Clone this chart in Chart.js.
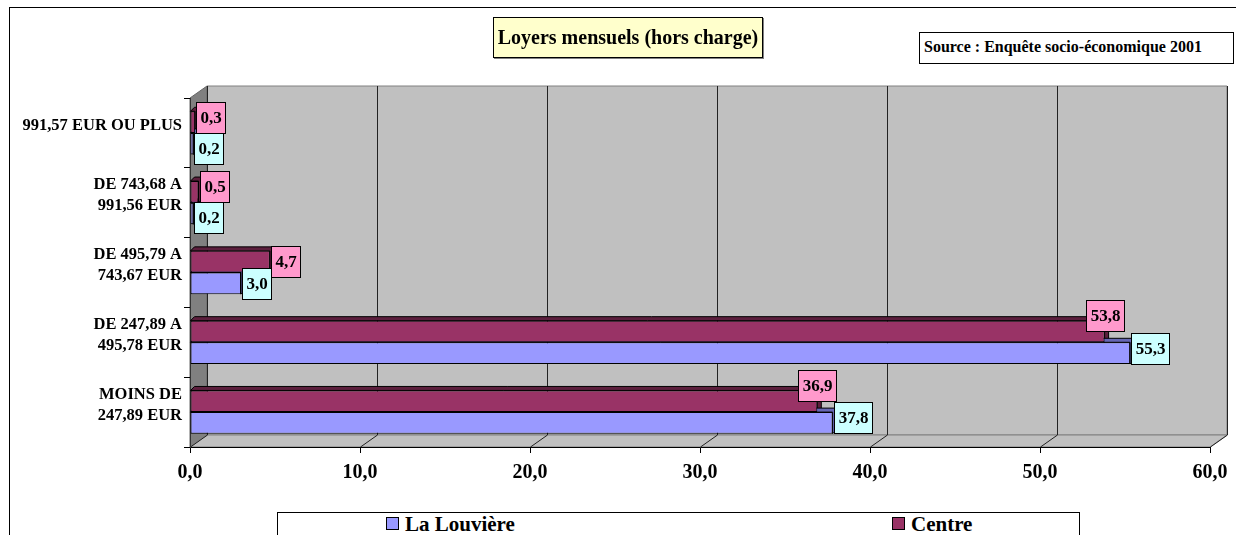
<!DOCTYPE html>
<html lang="fr">
<head>
<meta charset="utf-8">
<title>Loyers mensuels (hors charge)</title>
<script src="https://cdn.jsdelivr.net/npm/chart.js@4.4.1/dist/chart.umd.min.js"></script>
<style>
  html, body { margin: 0; padding: 0; background: #fff; overflow: hidden; }
  body { width: 1236px; height: 535px; position: relative; font-family: "Liberation Serif", "Times New Roman", serif; }
  #cadre { position: absolute; left: 9px; top: 7px; width: 1400px; height: 700px; border: 1px solid #000; }
  #graphique { position: absolute; left: 0; top: 0; }
  .boite { position: absolute; box-sizing: border-box; font-weight: bold; color: #000; white-space: nowrap; }
  #titre { left: 493px; top: 17px; width: 270px; height: 41px; background: #ffffcc; border: 1px solid #000;
           box-shadow: 1px 1px 0 #808080; font-size: 20px; line-height: 39px; text-align: center; }
  #source { left: 919px; top: 32px; width: 315px; height: 32px; background: #fff; border: 1px solid #000;
            font-size: 16px; line-height: 28px; padding-left: 4px; }
  #legende { left: 277px; top: 512px; width: 803px; height: 60px; background: #fff; border: 1px solid #000; }
  .item { position: absolute; top: -1px; font-size: 21px; line-height: 24px; }
  .carre { display: inline-block; width: 11px; height: 11px; border: 1px solid #000; margin-right: 6px; vertical-align: 1px; }
</style>
</head>
<body>
<div id="cadre"></div>
<canvas id="graphique" width="1236" height="535"></canvas>
<div class="boite" id="titre">Loyers mensuels (hors charge)</div>
<div class="boite" id="source">Source : Enquête socio-économique 2001</div>
<div class="boite" id="legende">
  <div class="item" style="left:108px"><span class="carre" style="background:#9999ff"></span>La Louvière</div>
  <div class="item" style="left:614px"><span class="carre" style="background:#993366"></span>Centre</div>
</div>
<script>
// Données
const tranches = [
  '991,57 EUR OU PLUS',
  ['DE 743,68 A', '991,56 EUR'],
  ['DE 495,79 A', '743,67 EUR'],
  ['DE 247,89 A', '495,78 EUR'],
  ['MOINS DE', '247,89 EUR']
];
const laLouviere = [0.2, 0.2, 3.0, 55.3, 37.8];
const centre = [0.3, 0.5, 4.7, 53.8, 36.9];
const axeMin = 0;
const axeMax = 60;
const axePas = 10;

const police = '"Liberation Serif", "Times New Roman", serif';
const virgule = v => Number(v).toFixed(1).replace('.', ',');

// Parois 3D (fond, mur gauche, sol) et quadrillage
const parois = {
  id: 'parois',
  beforeDraw(chart) {
    const { ctx, chartArea: a, scales: { x } } = chart;
    const dx = 17, dy = 12;
    const poly = (pts, fill, stroke) => {
      ctx.beginPath();
      pts.forEach((p, i) => i ? ctx.lineTo(p[0], p[1]) : ctx.moveTo(p[0], p[1]));
      ctx.closePath();
      ctx.fillStyle = fill;
      ctx.fill();
      if (stroke) { ctx.strokeStyle = stroke; ctx.stroke(); }
    };
    ctx.save();
    ctx.lineWidth = 1;
    poly([[a.left + dx, a.top - dy], [a.right + dx, a.top - dy], [a.right + dx, a.bottom - dy], [a.left + dx, a.bottom - dy]], '#c0c0c0', '#808080');
    poly([[a.left, a.top], [a.left + dx, a.top - dy], [a.left + dx, a.bottom - dy], [a.left, a.bottom]], '#808080', '#666');
    poly([[a.left, a.bottom], [a.left + dx, a.bottom - dy], [a.right + dx, a.bottom - dy], [a.right, a.bottom]], '#c0c0c0', '#808080');
    ctx.strokeStyle = '#222';
    x.ticks.forEach(t => {
      const px = Math.round(x.getPixelForValue(t.value)) + 0.5;
      ctx.beginPath();
      ctx.moveTo(px + dx, a.top - dy);
      ctx.lineTo(px + dx, a.bottom - dy);
      ctx.lineTo(px, a.bottom);
      ctx.stroke();
    });
    ctx.restore();
  },
  // faces du dessus et de côté des barres
  beforeDatasetsDraw(chart) {
    const { ctx } = chart;
    const d = 4;
    const teintes = ['#5c1f3d', '#6666b3'];
    ctx.save();
    chart.data.datasets.forEach((ds, i) => {
      chart.getDatasetMeta(i).data.forEach(bar => {
        const { x, y, base, height } = bar.getProps(['x', 'y', 'base', 'height'], true);
        const haut = y - height / 2, bas = y + height / 2;
        ctx.fillStyle = teintes[i];
        ctx.strokeStyle = '#000';
        ctx.lineWidth = 1;
        ctx.beginPath();
        ctx.moveTo(base, haut);
        ctx.lineTo(base + d, haut - d);
        ctx.lineTo(x + d, haut - d);
        ctx.lineTo(x + d, bas - d);
        ctx.lineTo(x, bas);
        ctx.lineTo(x, haut);
        ctx.closePath();
        ctx.fill();
        ctx.stroke();
      });
    });
    ctx.restore();
  },
  // étiquettes de valeurs encadrées
  afterDatasetsDraw(chart) {
    const { ctx, chartArea: a } = chart;
    ctx.save();
    ctx.font = 'bold 17px ' + police;
    ctx.textAlign = 'center';
    ctx.textBaseline = 'middle';
    const h = 31, recul = 5;
    const largeur = t => Math.round(ctx.measureText(t).width) + 8;
    const dessine = (b, fond) => {
      ctx.fillStyle = fond;
      ctx.fillRect(b.x, b.y, b.w, h);
      ctx.strokeStyle = '#000';
      ctx.strokeRect(b.x + 0.5, b.y + 0.5, b.w, h);
      ctx.fillStyle = '#000';
      ctx.fillText(b.t, b.x + b.w / 2 + 0.5, b.y + h / 2 + 1);
    };
    const mc = chart.getDatasetMeta(0), ml = chart.getDatasetMeta(1);
    tranches.forEach((_, i) => {
      const barC = mc.data[i], barL = ml.data[i];
      const tc = virgule(centre[i]), tl = virgule(laLouviere[i]);
      const wc = largeur(tc), wl = largeur(tl);
      let bc, bl;
      if (centre[i] > laLouviere[i]) {
        // étiquettes au bout des barres, écartées si elles se chevauchent
        bc = { t: tc, w: wc, x: Math.round(barC.x) + 1, y: Math.round(barC.y - h / 2) };
        bl = { t: tl, w: wl, x: Math.round(barL.x) + 1, y: Math.round(barL.y - h / 2) };
        const recouvre = bc.x < bl.x + bl.w && bl.x < bc.x + bc.w;
        const ecart = bc.y + h - bl.y;
        if (recouvre && ecart > 0) {
          bc.y -= Math.ceil(ecart / 2);
          bl.y += Math.floor(ecart / 2);
        }
      } else {
        bc = {
          t: tc, w: wc,
          x: Math.max(Math.round(barC.x - wc / 2), a.left + 3),
          y: Math.round(barC.y - barC.height / 2 - recul - h / 2)
        };
        bl = { t: tl, w: wl, x: Math.round(barL.x) + 1, y: Math.round(barL.y - recul - h / 2) };
      }
      dessine(bl, '#ccffff');
      dessine(bc, '#ff99cc');
    });
    ctx.restore();
  }
};

document.addEventListener('DOMContentLoaded', function () {
  const ctx = document.getElementById('graphique').getContext('2d');

  const data = {
    labels: tranches,
    datasets: [{
      label: 'Centre',
      data: centre,
      backgroundColor: '#993366',
      borderColor: '#000',
      borderWidth: 1,
      borderSkipped: false,
      categoryPercentage: 0.62,
      barPercentage: 1
    }, {
      label: 'La Louvière',
      data: laLouviere,
      backgroundColor: '#9999ff',
      borderColor: '#000',
      borderWidth: 1,
      borderSkipped: false,
      categoryPercentage: 0.62,
      barPercentage: 1
    }]
  };

  const config = {
    type: 'bar',
    data: data,
    plugins: [parois],
    options: {
      indexAxis: 'y',
      responsive: false,
      animation: false,
      devicePixelRatio: 1,
      layout: { padding: { top: 98, right: 26, left: 0, bottom: 0 } },
      plugins: {
        legend: { display: false },
        tooltip: { enabled: false }
      },
      scales: {
        x: {
          min: axeMin,
          max: axeMax,
          ticks: {
            stepSize: axePas,
            maxRotation: 0,
            padding: 8,
            color: '#000',
            font: { family: police, size: 20, weight: 'bold' },
            callback: v => virgule(v)
          },
          grid: { drawOnChartArea: false, tickLength: 6, color: '#000' },
          border: { color: '#000' },
          afterFit: s => { s.height = 88; }
        },
        y: {
          ticks: {
            padding: 2,
            labelOffset: -7,
            color: '#000',
            font: { family: police, size: 16.5, weight: 'bold', lineHeight: 1.27 }
          },
          grid: { drawOnChartArea: false, tickLength: 6, color: '#000', offset: true },
          border: { color: '#333' },
          afterFit: s => { s.width = 190; }
        }
      }
    }
  };

  new Chart(ctx, config);
});
</script>
</body>
</html>
